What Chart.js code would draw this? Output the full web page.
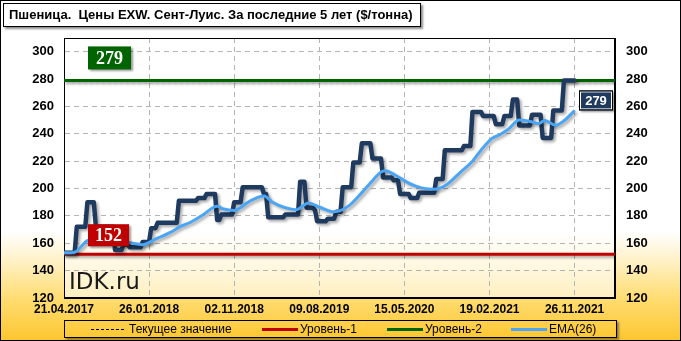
<!DOCTYPE html>
<html lang="ru">
<head>
<meta charset="UTF-8">
<title>Пшеница. Цены EXW. Сент-Луис</title>
<script src="https://cdn.jsdelivr.net/npm/chart.js"></script>
<style>
    html, body { margin: 0; padding: 0; }
    #wrap {
        position: relative;
        width: 681px;
        height: 341px;
        box-sizing: border-box;
        border: 1px solid #000;
        overflow: hidden;
        background: linear-gradient(to bottom, #ffffff 0%, #ffffff 68%, #fff4d2 75%, #ffdc70 88%, #fcc630 100%);
        font-family: "Liberation Sans", Arial, sans-serif;
    }
    #chart { position: absolute; left: 0; top: 0; }
    .title {
        position: absolute;
        left: 2px; top: 2px;
        width: 418px; height: 24px;
        box-sizing: border-box;
        border: 1px solid #000;
        background: #fff;
        box-shadow: 2px 2px 2px rgba(0,0,0,0.45);
        font-weight: bold;
        font-size: 13px;
        line-height: 22px;
        padding-left: 5px;
        white-space: pre;
        color: #000;
    }
    .legend {
        position: absolute;
        left: 63px; top: 319px;
        width: 553px; height: 18px;
        box-sizing: border-box;
        border: 1px solid #000;
        box-shadow: 2px 2px 2px rgba(0,0,0,0.4);
        font-size: 12px;
        color: #000;
    }
    .legend span { position: absolute; top: 1px; line-height: 15px; white-space: nowrap; }
    .legend i { position: absolute; top: 7px; height: 3px; }
</style>
</head>
<body>
<div id="wrap">
    <canvas id="chart" width="679" height="339"></canvas>
    <div class="title">Пшеница.  Цены EXW. Сент-Луис. За последние 5 лет ($/тонна)</div>
    <div class="legend">
        <i style="left:26px; width:33px; height:0; top:8px; border-top:1px dashed #000;"></i>
        <span style="left:64px;">Текущее значение</span>
        <i style="left:197px; width:36px; background:#c00000;"></i>
        <span style="left:235px;">Уровень-1</span>
        <i style="left:322px; width:36px; background:#006400;"></i>
        <span style="left:360px;">Уровень-2</span>
        <i style="left:446px; width:36px; background:#4aa6f5;"></i>
        <span style="left:484px;">EMA(26)</span>
    </div>
</div>

<script>
    // Weekly prices, $/t, starting 21.04.2017
    const price = [
        153, 153, 153, 153, 153, 153,
        172, 172, 172, 172, 172,
        190, 190, 190, 190,
        172, 172, 172, 172, 172, 172, 172, 172, 172,
        155, 155, 155, 155,
        159, 159, 159,
        157, 157, 157, 157, 157, 157,
        161, 161, 161, 161,
        171, 171, 171,
        175, 175, 175, 175, 175, 175, 175, 175, 175, 175,
        191, 191, 191, 191, 191, 191, 191, 191, 191,
        193, 193, 193, 193,
        196, 196, 196, 196, 196,
        177, 177,
        181, 181, 181, 181, 181, 181,
        190, 190, 190, 190,
        201, 201, 201, 201, 201, 201, 201, 201, 201, 201,
        196, 196,
        179, 179, 179, 179, 179, 179, 179, 179,
        181, 181, 181, 181, 181, 181, 181,
        205, 205, 205,
        186, 186, 186, 186,
        184,
        176, 176, 176, 176, 176,
        178, 178, 178, 178,
        183, 183, 183,
        201, 201, 201, 201, 201,
        219, 219, 219, 219,
        233, 233, 233, 233, 233,
        222, 222, 222, 222, 222,
        208, 208, 208, 208, 208,
        206, 206, 206,
        196, 196, 196, 196, 196,
        193, 193, 193, 193,
        197, 197, 197, 197, 197, 197, 197, 197,
        207, 207, 207, 207,
        228, 228, 228, 228, 228, 228, 228, 228, 228,
        231, 231, 231, 231,
        256, 256, 256, 256, 256,
        253, 253, 253, 253, 253, 253,
        247, 247, 247, 247,
        253, 253, 253, 253,
        265, 265, 265,
        246, 246, 246, 246, 246, 246,
        254, 254, 254, 254, 254,
        237, 237, 237, 237, 237,
        257, 257, 257, 257, 257,
        279, 279, 279, 279, 279, 279
    ];

    // EMA(26) at selected weeks
    const emaWeeks = [0, 5, 11, 17, 25, 30, 37, 43, 50, 55, 59, 65, 72, 75, 80, 87, 94, 98, 104, 109,
        115, 120, 127, 134, 140, 144, 149, 151, 156, 162, 168, 174, 180, 186, 192, 196, 201, 205, 209,
        214, 219, 223, 226, 231, 235, 240];
    const emaValues = [153, 153.5, 162, 163.5, 161, 160.5, 159, 163, 168, 172.5, 175, 180.5, 187, 185, 184, 190.5, 194.5, 190, 186, 184.5,
        189.5, 186.5, 183, 187.5, 197, 204, 212, 213, 209.5, 204, 200.5, 199.5, 203, 211.5, 220, 228, 236.5, 239.5, 243.5,
        250, 249, 247.5, 249.8, 246.2, 249.5, 257];

    const level1 = 152;
    const level2 = 279;
    const currentValue = price[price.length - 1];

    // x axis: weeks from the first date, a label every 40 weeks
    const dateLabels = ['21.04.2017', '26.01.2018', '02.11.2018', '09.08.2019', '15.05.2020', '19.02.2021', '26.11.2021'];
    const weekStep = 40;
    const weekMax = 259;
    const yMin = 120, yMax = 310, yStep = 20;

    const navy = '#1f3a5f';
    const blue = '#4aa6f5';
    const red = '#c00000';
    const green = '#006400';
    const gridColor = '#b4b4b4';

    const shadowPlugin = {
        id: 'shadow',
        beforeDatasetDraw(chart) {
            const ctx = chart.ctx;
            ctx.save();
            ctx.shadowColor = 'rgba(0,0,0,0.35)';
            ctx.shadowBlur = 3;
            ctx.shadowOffsetX = 2;
            ctx.shadowOffsetY = 2;
        },
        afterDatasetDraw(chart) {
            chart.ctx.restore();
        }
    };

    const plotPlugin = {
        id: 'plot',
        beforeDraw(chart) {
            const {ctx, chartArea: a} = chart;
            ctx.save();
            ctx.fillStyle = 'rgba(255,255,255,0.55)';
            ctx.fillRect(a.left, a.top, a.right - a.left, a.bottom - a.top);
            ctx.restore();
        },
        beforeDatasetsDraw(chart) {
            const {ctx, chartArea: a} = chart;
            ctx.save();
            ctx.fillStyle = '#1a1a1a';
            ctx.font = '23px "DejaVu Sans", sans-serif';
            ctx.textBaseline = 'alphabetic';
            ctx.fillText('IDK.ru', a.left + 5, a.bottom - 9);
            ctx.strokeStyle = '#000';
            ctx.lineWidth = 1;
            ctx.strokeRect(a.left + 0.5, a.top + 0.5, a.right - a.left - 1, a.bottom - a.top - 1);
            ctx.restore();
        },
        afterDatasetsDraw(chart) {
            const {ctx, chartArea: a, scales} = chart;
            const badge = (text, x, y, w, h, fill, font, edge) => {
                ctx.save();
                ctx.shadowColor = 'rgba(0,0,0,0.4)';
                ctx.shadowBlur = 2;
                ctx.shadowOffsetX = 2;
                ctx.shadowOffsetY = 2;
                ctx.fillStyle = fill;
                ctx.fillRect(x, y, w, h);
                ctx.restore();
                if (edge) {
                    ctx.save();
                    ctx.strokeStyle = '#fff';
                    ctx.lineWidth = 1;
                    ctx.strokeRect(x + 1.5, y + 1.5, w - 3, h - 3);
                    ctx.strokeStyle = '#000';
                    ctx.strokeRect(x + 0.5, y + 0.5, w - 1, h - 1);
                    ctx.restore();
                }
                ctx.save();
                ctx.fillStyle = '#fff';
                ctx.font = font;
                ctx.textAlign = 'center';
                ctx.textBaseline = 'middle';
                ctx.fillText(text, x + w / 2, y + h / 2 + 1);
                ctx.restore();
            };
            const y2 = scales.y.getPixelForValue(level2);
            const y1 = scales.y.getPixelForValue(level1);
            const yc = scales.y.getPixelForValue(currentValue);
            badge(String(level2), a.left + 24, y2 - 34, 43, 23, green, 'bold 18px "Liberation Serif", serif', false);
            badge(String(level1), a.left + 24, y1 - 30, 41, 22, red, 'bold 18px "Liberation Serif", serif', false);
            badge(String(currentValue), a.right - 36, yc + 10, 34, 20, navy, 'bold 13px "Liberation Sans", sans-serif', true);
        }
    };

    const hLine = v => [{x: 0, y: v}, {x: weekMax, y: v}];

    new Chart(document.getElementById('chart'), {
        type: 'line',
        data: {
            datasets: [
                {
                    label: 'EMA(26)',
                    data: emaWeeks.map((w, i) => ({x: w, y: emaValues[i]})),
                    borderColor: blue,
                    borderWidth: 3,
                    pointRadius: 0,
                    cubicInterpolationMode: 'monotone',
                    order: 0
                },
                {
                    label: 'Цена',
                    data: price.map((v, i) => ({x: i, y: v})),
                    borderColor: navy,
                    borderWidth: 4.5,
                    pointRadius: 0,
                    tension: 0,
                    borderJoinStyle: 'round',
                    borderCapStyle: 'round',
                    order: 1
                },
                {
                    label: 'Текущее значение',
                    data: hLine(currentValue),
                    borderColor: '#000',
                    borderWidth: 1,
                    borderDash: [3, 3],
                    pointRadius: 0,
                    order: 4
                },
                {
                    label: 'Уровень-1',
                    data: hLine(level1),
                    borderColor: red,
                    borderWidth: 3,
                    pointRadius: 0,
                    order: 2
                },
                {
                    label: 'Уровень-2',
                    data: hLine(level2),
                    borderColor: green,
                    borderWidth: 3,
                    pointRadius: 0,
                    order: 3
                }
            ]
        },
        options: {
            responsive: false,
            animation: false,
            events: [],
            layout: { padding: { top: 37, left: 0, right: 0, bottom: 0 } },
            plugins: {
                legend: { display: false },
                title: { display: false },
                tooltip: { enabled: false }
            },
            scales: {
                x: {
                    type: 'linear',
                    min: 0,
                    max: weekMax,
                    afterFit: s => { s.height = 42; },
                    ticks: {
                        stepSize: weekStep,
                        includeBounds: false,
                        maxRotation: 0,
                        autoSkip: false,
                        padding: 4,
                        color: '#000',
                        font: { family: '"Liberation Sans", Arial, sans-serif', size: 12, weight: 'bold' },
                        callback: v => dateLabels[v / weekStep] || ''
                    },
                    grid: { color: gridColor, drawTicks: false, lineWidth: 1 },
                    border: { display: true, color: '#000', dash: [5, 4] }
                },
                y: {
                    position: 'left',
                    min: yMin,
                    max: yMax,
                    afterFit: s => { s.width = 63; },
                    ticks: {
                        stepSize: yStep,
                        includeBounds: false,
                        padding: 10,
                        color: '#000',
                        font: { family: '"Liberation Sans", Arial, sans-serif', size: 13, weight: 'bold' }
                    },
                    grid: { color: gridColor, drawTicks: false, lineWidth: 1 },
                    border: { display: true, color: '#000', dash: [5, 4] }
                },
                y2: {
                    position: 'right',
                    min: yMin,
                    max: yMax,
                    afterFit: s => { s.width = 65; },
                    ticks: {
                        stepSize: yStep,
                        includeBounds: false,
                        padding: 11,
                        color: '#000',
                        font: { family: '"Liberation Sans", Arial, sans-serif', size: 13, weight: 'bold' }
                    },
                    grid: { drawOnChartArea: false, drawTicks: false },
                    border: { display: true, color: '#000' }
                }
            }
        },
        plugins: [plotPlugin, shadowPlugin]
    });
</script>
</body>
</html>
